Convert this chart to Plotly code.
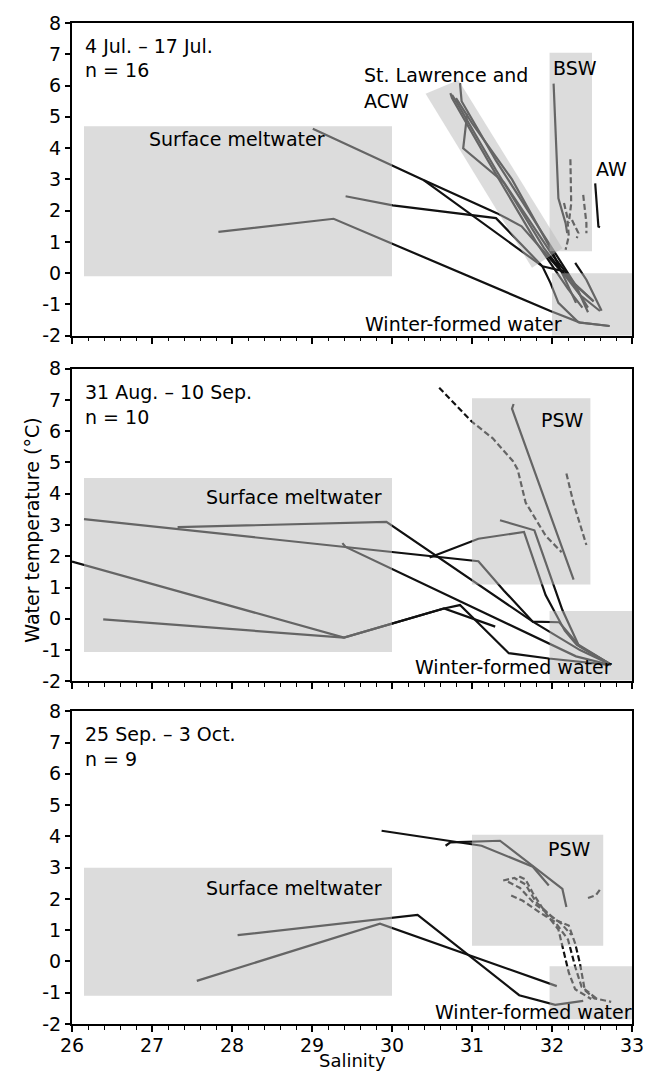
import plotly.graph_objects as go

# ---------------- data (salinity, temperature °C) ----------------
# Panel 1: 4 Jul. – 17 Jul., n = 16
jul_sal = [
    [27.83, 29.27, 31.98, 32.35, 32.72],
    [29.01, 30.40, 31.31, 31.62, 32.10, 32.52],
    [29.42, 30.01, 31.30, 31.88, 31.98, 32.08, 32.33, 32.72],
    [30.40, 31.88, 32.17, 32.45],
    [32.29, 32.43, 32.62],
    [32.02, 32.08, 32.17, 32.19],
    [32.23, 32.24, 32.21],
    [32.15, 32.19, 32.21, 32.17],
    [32.39, 32.43, 32.43],
    [32.25, 32.33, 32.31],
    [32.54, 32.58, 32.60],
    [30.85, 30.87, 31.30, 31.90, 32.30, 32.45],
    [30.73, 30.75, 31.20, 31.80, 32.20, 32.38],
    [30.75, 30.80, 31.30, 31.90, 32.35, 32.60],
    [30.94, 30.89, 31.40, 32.00, 32.30, 32.52],
    [30.80, 31.00, 31.50, 32.00, 32.30],
]
jul_temp = [
    [1.32, 1.74, -1.21, -1.58, -1.69],
    [4.62, 2.97, 1.92, 1.50, 0.10, -0.90],
    [2.46, 2.17, 1.76, 0.22, -0.31, -0.95, -1.57, -1.69],
    [2.97, 0.22, 0.05, -1.10],
    [0.33, -0.21, -1.20],
    [6.06, 2.39, 1.60, 1.28],
    [3.64, 2.23, 1.60],
    [2.24, 1.81, 1.18, 0.75],
    [2.50, 1.60, 1.28],
    [1.70, 1.28, 1.12],
    [2.87, 1.49, 1.47],
    [6.08, 5.50, 3.60, 1.20, -0.40, -1.25],
    [5.76, 5.60, 3.60, 1.00, -0.50, -1.10],
    [5.70, 5.50, 3.30, 0.80, -0.70, -1.21],
    [5.10, 3.99, 2.90, 0.60, -0.40, -0.90],
    [5.60, 4.80, 3.00, 0.70, -0.95],
]
jul_dash = [False, False, False, False, False, False, True, True, True, True,
            False, False, False, False, False, False]

# Panel 2: 31 Aug. – 10 Sep., n = 10
aug_sal = [
    [30.59, 31.00, 31.26, 31.51, 31.57, 31.67, 31.92, 32.12],
    [31.52, 31.50, 32.27],
    [32.18, 32.27, 32.43],
    [31.35, 31.78, 32.13, 32.33, 32.74],
    [30.47, 31.08, 31.65, 31.92, 32.16, 32.31, 32.70],
    [26.15, 31.08, 31.40, 31.76, 32.09, 32.35, 32.74],
    [27.32, 29.93, 31.76, 32.35, 32.74],
    [29.38, 29.42, 32.30, 32.72],
    [26.00, 29.40, 30.65, 30.85, 31.46, 31.96, 32.72],
    [26.39, 29.40, 30.65, 31.29],
]
aug_temp = [
    [7.39, 6.30, 5.77, 5.05, 4.78, 3.72, 2.66, 2.13],
    [6.87, 6.72, 1.25],
    [4.65, 3.69, 2.36],
    [3.15, 2.83, 0.28, -0.83, -1.47],
    [1.96, 2.56, 2.78, 0.76, -0.38, -0.83, -1.41],
    [3.19, 1.84, 0.90, -0.09, -0.11, -0.89, -1.47],
    [2.93, 3.10, -0.09, -1.00, -1.47],
    [2.42, 2.30, -1.20, -1.47],
    [1.83, -0.60, 0.33, 0.44, -1.10, -1.27, -1.47],
    [-0.02, -0.60, 0.33, -0.25],
]
aug_dash = [True, False, True, False, False, False, False, False, False, False]

# Panel 3: 25 Sep. – 3 Oct., n = 9
sep_sal = [
    [29.87, 31.12, 31.76, 31.96],
    [30.67, 30.73, 31.35, 31.76, 32.13, 32.18],
    [28.07, 30.32, 31.59, 32.04, 32.39],
    [27.56, 29.85, 32.06],
    [31.39, 31.53, 31.67, 31.80, 32.04, 32.21, 32.29, 32.35, 32.41, 32.53, 32.74],
    [31.49, 31.63, 31.84, 32.04, 32.20, 32.29, 32.37, 32.58],
    [31.59, 31.67, 31.76, 31.92, 32.08, 32.17, 32.21, 32.29, 32.49],
    [32.45, 32.55, 32.60],
    [31.45, 31.60, 31.78, 31.98, 32.12, 32.24],
]
sep_temp = [
    [4.18, 3.70, 3.03, 2.43],
    [3.70, 3.81, 3.86, 3.05, 2.32, 1.74],
    [0.84, 1.49, -1.08, -1.39, -1.26],
    [-0.62, 1.21, -0.79],
    [2.59, 2.67, 2.46, 1.90, 1.33, 1.15, 0.57, -0.07, -0.92, -1.18, -1.29],
    [2.11, 1.95, 1.58, 1.26, 0.70, -0.17, -0.81, -1.23],
    [2.72, 2.62, 2.19, 1.55, 1.02, 0.06, -0.36, -0.89, -1.20],
    [2.03, 2.12, 2.30],
    [2.55, 2.35, 1.85, 1.45, 1.20, 0.85],
]
sep_dash = [False, False, False, False, True, True, True, True, True]

# water-mass boxes: (x0, x1, y0, y1)
jul_boxes = [(26.15, 30.0, -0.1, 4.7), (31.97, 32.5, 0.7, 7.05), (32.0, 33.0, -2.0, 0.0)]
jul_band_sal = [30.42, 30.83, 32.13, 31.75]
jul_band_temp = [5.74, 6.18, 0.80, 0.17]
aug_boxes = [(26.15, 30.0, -1.06, 4.5), (31.0, 32.48, 1.1, 7.05), (31.97, 33.0, -1.97, 0.25)]
sep_boxes = [(26.15, 30.0, -1.1, 3.0), (31.0, 32.64, 0.5, 4.05), (31.97, 33.0, -1.85, -0.15)]

# text labels: (text, salinity, temperature, anchor)
jul_labels = [("4 Jul. \u2013 17 Jul.", 26.15, 7.26, "left"), ("n = 16", 26.15, 6.51, "left"),
              ("St. Lawrence and", 29.64, 6.35, "left"), ("ACW", 29.64, 5.5, "left"),
              ("BSW", 32.0, 6.56, "left"), ("AW", 32.54, 3.32, "left"),
              ("Surface meltwater", 28.06, 4.30, "center"),
              ("Winter-formed water", 30.89, -1.63, "center")]
aug_labels = [("31 Aug. \u2013 10 Sep.", 26.15, 7.25, "left"), ("n = 10", 26.15, 6.46, "left"),
              ("PSW", 32.13, 6.37, "center"),
              ("Surface meltwater", 28.77, 3.89, "center"),
              ("Winter-formed water", 31.52, -1.54, "center")]
sep_labels = [("25 Sep. \u2013 3 Oct.", 26.15, 7.26, "left"), ("n = 9", 26.15, 6.46, "left"),
              ("PSW", 32.22, 3.60, "center"),
              ("Surface meltwater", 28.77, 2.36, "center"),
              ("Winter-formed water", 31.77, -1.63, "center")]

x_ticks = [26, 27, 28, 29, 30, 31, 32, 33]
y_ticks = [-2, -1, 0, 1, 2, 3, 4, 5, 6, 7, 8]
y_tick_text = ["-2", "-1", "0", "1", "2", "3", "4", "5", "6", "7", "8"]

# ---------------- figure ----------------
FONT = "DejaVu Sans"
FS = 19
BOX_FILL = "rgba(186,186,186,0.5)"
LINE_COL = "#111111"

fig = go.Figure()
annotations = []
shapes = []

panels = [
    ("x", "y", jul_sal, jul_temp, jul_dash, jul_boxes, jul_labels),
    ("x2", "y2", aug_sal, aug_temp, aug_dash, aug_boxes, aug_labels),
    ("x3", "y3", sep_sal, sep_temp, sep_dash, sep_boxes, sep_labels),
]

for xr, yr, sal, temp, dash, boxes, labels in panels:
    for s, t, d in zip(sal, temp, dash):
        fig.add_trace(go.Scatter(
            x=s, y=t, mode="lines", xaxis=xr, yaxis=yr,
            line=dict(color=LINE_COL, width=2.2, dash="6px,3px" if d else "solid"),
            hoverinfo="skip", showlegend=False))
    for x0, x1, y0, y1 in boxes:
        shapes.append(dict(type="rect", xref=xr, yref=yr, x0=x0, x1=x1, y0=y0, y1=y1,
                           fillcolor=BOX_FILL, line=dict(width=0), layer="above"))
    for txt, sx, ty, anc in labels:
        annotations.append(dict(text=txt, x=sx, y=ty, xref=xr, yref=yr, xanchor=anc,
                                yanchor="middle", showarrow=False, borderpad=0,
                                font=dict(family=FONT, size=FS, color="black")))

band_path = "M " + " L ".join(f"{s},{t}" for s, t in zip(jul_band_sal, jul_band_temp)) + " Z"
shapes.append(dict(type="path", xref="x", yref="y", path=band_path,
                   fillcolor=BOX_FILL, line=dict(width=0), layer="above"))

annotations.append(dict(text="Water temperature (\u00b0C)", xref="paper", yref="paper",
                        x=-0.072, y=0.4935, textangle=-90, showarrow=False,
                        xanchor="center", yanchor="middle",
                        font=dict(family=FONT, size=FS, color="black")))
annotations.append(dict(text="Salinity", xref="paper", yref="paper",
                        x=0.501, y=-0.0480, showarrow=False, borderpad=0,
                        xanchor="center", yanchor="bottom",
                        font=dict(family=FONT, size=18, color="black")))

xcommon = dict(range=[26, 33], tickvals=x_ticks, ticks="outside", ticklen=6, tickwidth=1.6,
               tickcolor="black", showline=True, linecolor="black", linewidth=2, mirror=True,
               showgrid=False, zeroline=False, ticklabelstandoff=-3,
               minor=dict(dtick=0.2, ticks="outside", ticklen=3.5, tickwidth=1.4,
                          tickcolor="black", showgrid=False),
               tickfont=dict(family=FONT, size=FS, color="black"))
ycommon = dict(range=[-2, 8], tickvals=y_ticks, ticktext=y_tick_text, ticks="outside",
               ticklen=5, tickwidth=1.6,
               tickcolor="black", showline=True, linecolor="black", linewidth=2, mirror=True,
               showgrid=False, zeroline=False,
               tickfont=dict(family=FONT, size=FS, color="black"))

fig.update_layout(
    width=656, height=1073,
    margin=dict(l=72, r=15, t=19, b=49),
    plot_bgcolor="white", paper_bgcolor="white",
    showlegend=False,
    xaxis=dict(xcommon, anchor="y", showticklabels=False),
    xaxis2=dict(xcommon, anchor="y2", showticklabels=False),
    xaxis3=dict(xcommon, anchor="y3", showticklabels=True),
    yaxis=dict(ycommon, anchor="x", domain=[0.6876, 1.0]),
    yaxis2=dict(ycommon, anchor="x2", domain=[0.3423, 0.6547]),
    yaxis3=dict(ycommon, anchor="x3", domain=[0.0, 0.3124]),
    shapes=shapes,
    annotations=annotations,
)

fig.write_html("out.html", config={"displayModeBar": False},
               post_script="document.body.style.margin='0';document.body.style.padding='0';")
